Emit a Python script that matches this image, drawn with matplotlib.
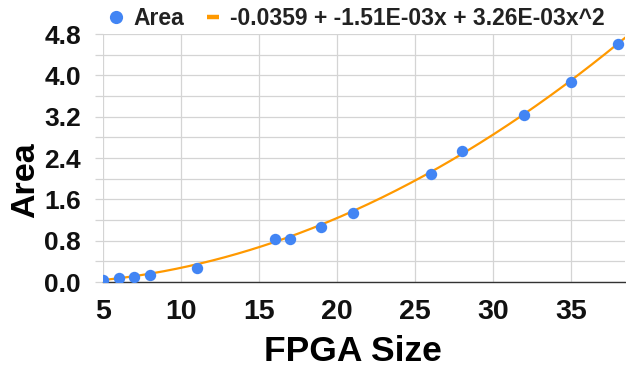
import matplotlib
matplotlib.use("Agg")
import matplotlib.pyplot as plt
import numpy as np
from matplotlib.lines import Line2D
from matplotlib.ticker import MultipleLocator

# Data
fpga_size = [5, 6, 7, 8, 11, 16, 17, 19, 21, 26, 28, 32, 35, 38]
area = [0.03, 0.07, 0.09, 0.13, 0.28, 0.83, 0.83, 1.06, 1.33, 2.10, 2.53, 3.24, 3.87, 4.60]
trend_coef = [-0.0359, -1.51e-03, 3.26e-03]  # c0, c1, c2
trend_label = "-0.0359 + -1.51E-03x + 3.26E-03x^2"
x_ticks = [5, 10, 15, 20, 25, 30, 35]
y_ticks = [0.0, 0.8, 1.6, 2.4, 3.2, 4.0, 4.8]

plt.rcParams['font.family'] = ['Liberation Sans', 'DejaVu Sans']
plt.rcParams['font.weight'] = 'bold'

fig = plt.figure(figsize=(6.26, 3.77), dpi=100)
W, H = 626, 377
left, right, bottom, top = 103, 625, 282, 34
ax = fig.add_axes([left / W, 1 - bottom / H, (right - left) / W, (bottom - top) / H])

xmin, xmax = 5, 38.45
xs = np.linspace(xmin, xmax, 300)
ys = trend_coef[0] + trend_coef[1] * xs + trend_coef[2] * xs ** 2
blue = '#4285F4'
orange = '#FF9900'
ax.plot(xs, ys, color=orange, lw=1.6, zorder=3)
ax.plot(fpga_size, area, 'o', color=blue, ms=8.2, mew=0, zorder=4)

ax.set_xlim(xmin, xmax)
ax.set_ylim(0, 4.8)
ax.set_xticks(x_ticks)
ax.set_yticks(y_ticks)
ax.set_yticklabels([f"{v:.1f}" for v in y_ticks])
ax.yaxis.set_minor_locator(MultipleLocator(0.4))

grid_c = '#d4d4d4'
ax.grid(True, which='major', color=grid_c, lw=0.9)
ax.grid(True, which='minor', axis='y', color=grid_c, lw=0.9)
ax.set_axisbelow(True)
for s in ['top', 'right', 'left']:
    ax.spines[s].set_visible(False)
ax.spines['bottom'].set_color('#333333')
ax.spines['bottom'].set_linewidth(1.0)

ax.tick_params(axis='y', which='both', length=5.8, color=grid_c, width=0.9,
               labelsize=19, pad=10, labelcolor='#111111')
ax.tick_params(axis='x', length=0, labelsize=20.5, pad=12, labelcolor='#111111')

ax.set_xlabel('FPGA Size', fontsize=25.5, fontweight='bold', color='#000000')
ax.xaxis.set_label_coords(0.478, -0.215)
ax.set_ylabel('Area', fontsize=24.5, fontweight='bold', color='#000000')
ax.yaxis.set_label_coords(-0.118, 0.409)

handles = [
    Line2D([], [], marker='o', ls='none', color=blue, ms=9.5, mew=0),
    Line2D([], [], color=orange, lw=3.2, solid_capstyle='butt'),
]
leg = ax.legend(handles, ['Area', trend_label], loc='center', bbox_to_anchor=(0.487, 1.062),
                ncol=2, frameon=False, fontsize=16.5, handlelength=0.55,
                handletextpad=0.45, columnspacing=1.0, borderaxespad=0)
for t in leg.get_texts():
    t.set_color('#222222')
    t.set_fontweight('bold')

fig.savefig('out.png', dpi=100)
